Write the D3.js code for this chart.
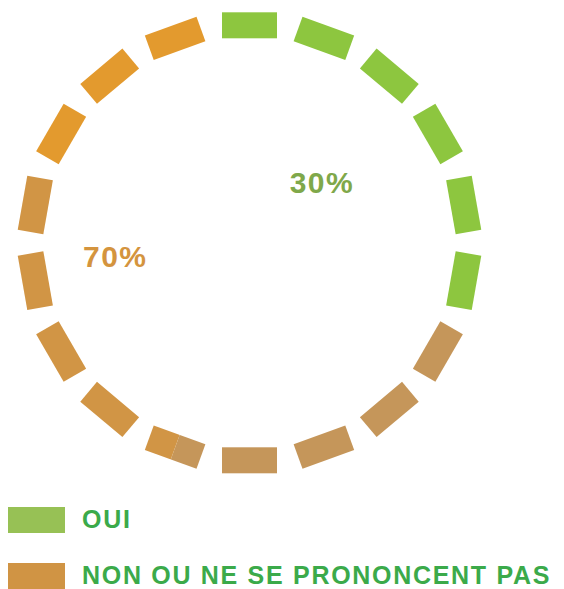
<!DOCTYPE html>
<html>
<head>
<meta charset="utf-8">
<script src="https://cdn.jsdelivr.net/npm/d3@7"></script>
<style>
  html, body { margin: 0; padding: 0; background: #fff; }
  svg { display: block; font-family: "Liberation Sans", Arial, sans-serif; font-weight: bold; }
</style>
</head>
<body>
<div id="chart"></div>
<script>
// Donnees
const categories = ["OUI", "NON OU NE SE PRONONCENT PAS"];
const values = [30, 70];
const valueLabels = ["30%", "70%"];

// Style
const width = 564, height = 589;
const cx = 249.5, cy = 242.8;
const ringR = 217.5, thick = 26, dashLen = 55, dashCount = 18;
const sliceColors = ["#8DC63F", "#C5965A"];
const legendColors = ["#97C155", "#D09444"];
const labelColors = ["#7FA84A", "#D4943E"];
// nuances de la tranche "NON" (fraction de la tranche -> couleur)
const nonShades = [
  { from: 0, to: 0.365, color: "#C5965A" },
  { from: 0.365, to: 0.725, color: "#D19545" },
  { from: 0.725, to: 1, color: "#E39A2E" }
];
// positions des pourcentages (angle en degres, rayon)
const labelPolar = [[50.4, 94], [264, 135]];

const svg = d3.select("#chart").append("svg")
  .attr("width", width).attr("height", height);

const pie = d3.pie().sort(null).value(d => d);
const arcs = pie(values);

const angle = d3.scaleLinear().domain([0, dashCount]).range([0, 360]);
const step = 2 * Math.PI / dashCount;

// chaque tiret appartient a la tranche qui contient son centre
const dashes = d3.range(dashCount).map(i => {
  const a = angle(i) * Math.PI / 180;
  const slice = arcs.findIndex(s => a >= s.startAngle && a < s.endAngle);
  return { i, slice: slice < 0 ? arcs.length - 1 : slice };
});

function dashRects(sel) {
  sel.attr("x", -dashLen / 2)
    .attr("y", -ringR - thick / 2)
    .attr("width", dashLen)
    .attr("height", thick)
    .attr("transform", d => `rotate(${angle(d.i)})`);
}

// tirets "OUI"
svg.append("g")
  .attr("transform", `translate(${cx},${cy})`)
  .selectAll("rect")
  .data(dashes.filter(d => d.slice === 0))
  .join("rect")
  .call(dashRects)
  .attr("fill", sliceColors[0]);

// tirets "NON" : masque + bandes nuancees
const mask = svg.append("defs").append("mask").attr("id", "dashesNon")
  .attr("maskUnits", "userSpaceOnUse")
  .attr("x", 0).attr("y", 0).attr("width", width).attr("height", height);
mask.append("g")
  .attr("transform", `translate(${cx},${cy})`)
  .selectAll("rect")
  .data(dashes.filter(d => d.slice === 1))
  .join("rect")
  .call(dashRects)
  .attr("fill", "#fff");

const arc = d3.arc().innerRadius(ringR - thick).outerRadius(ringR + thick);
const non = arcs[1];
const span = non.endAngle - non.startAngle;
const bands = nonShades.map((s, k) => ({
  startAngle: non.startAngle + s.from * span - (k === 0 ? step : 0),
  endAngle: non.startAngle + s.to * span + (k === nonShades.length - 1 ? step : 0),
  color: s.color
}));

svg.append("g")
  .attr("mask", "url(#dashesNon)")
  .append("g")
  .attr("transform", `translate(${cx},${cy})`)
  .selectAll("path")
  .data(bands)
  .join("path")
  .attr("d", arc)
  .attr("fill", d => d.color);

// pourcentages
svg.append("g").selectAll("text")
  .data(valueLabels)
  .join("text")
  .attr("x", (d, i) => cx + labelPolar[i][1] * Math.sin(labelPolar[i][0] * Math.PI / 180))
  .attr("y", (d, i) => cy - labelPolar[i][1] * Math.cos(labelPolar[i][0] * Math.PI / 180))
  .attr("text-anchor", "middle")
  .attr("dominant-baseline", "central")
  .attr("font-size", 30)
  .attr("letter-spacing", 1.5)
  .attr("fill", (d, i) => labelColors[i])
  .text(d => d);

// legende
const legend = svg.append("g").selectAll("g")
  .data(categories)
  .join("g")
  .attr("transform", (d, i) => `translate(8,${507 + i * 56})`);
legend.append("rect")
  .attr("width", 57).attr("height", 26)
  .attr("fill", (d, i) => legendColors[i]);
legend.append("text")
  .attr("x", 74).attr("y", 12)
  .attr("dominant-baseline", "central")
  .attr("font-size", 25)
  .attr("letter-spacing", 1.7)
  .attr("fill", "#3BAA4A")
  .text(d => d);
</script>
</body>
</html>
